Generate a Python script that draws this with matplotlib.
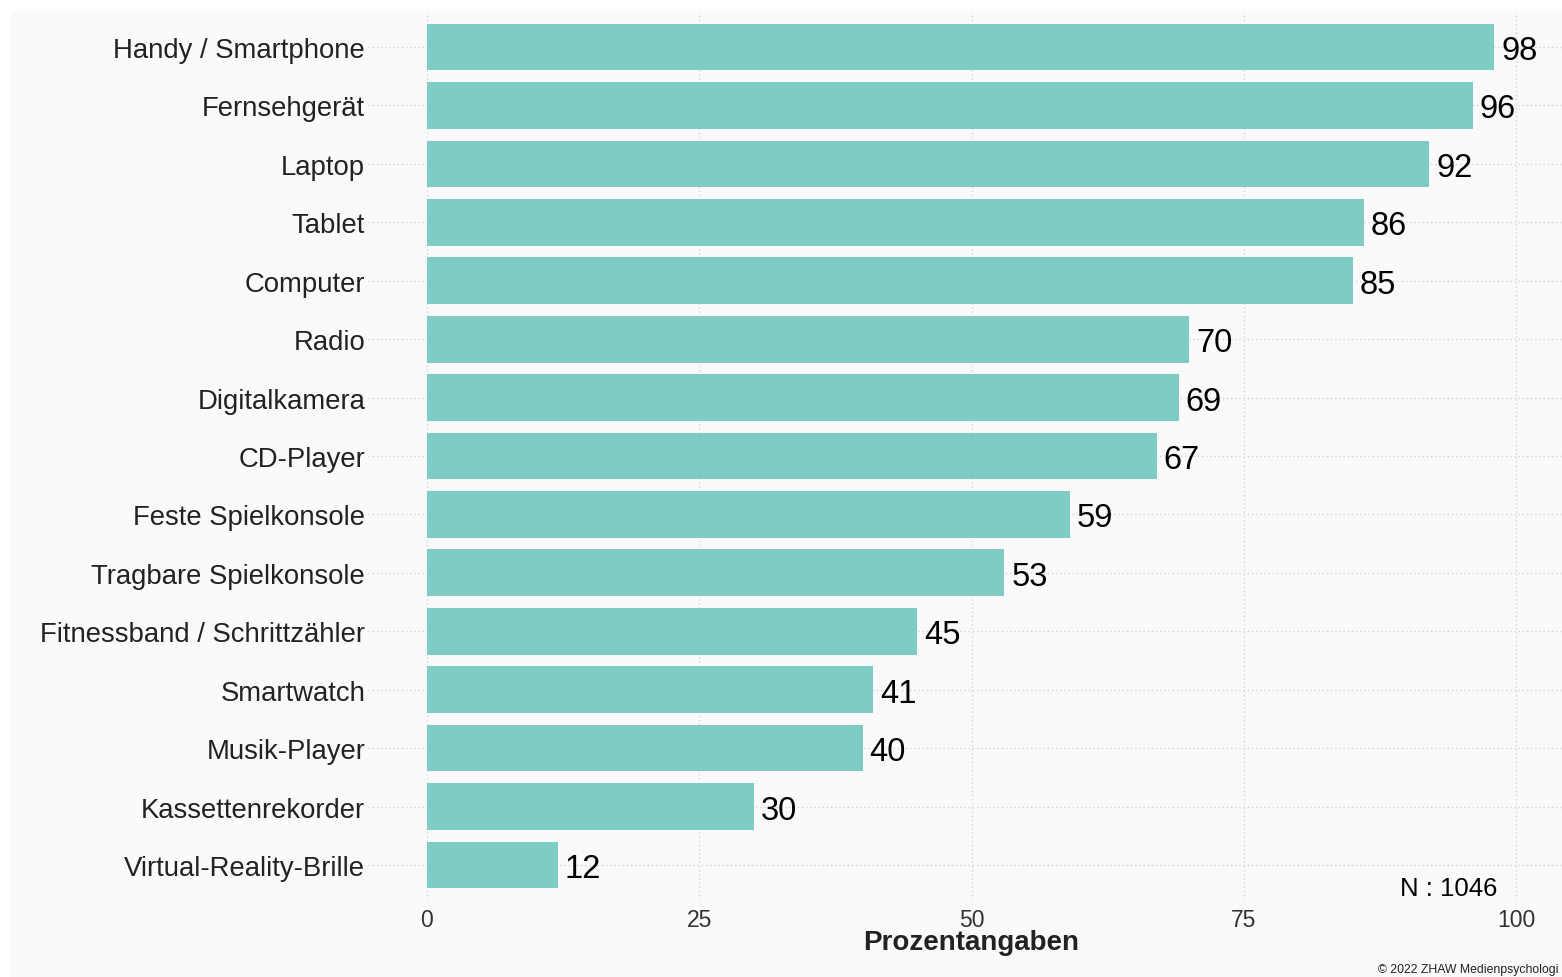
import matplotlib
matplotlib.use("Agg")
import matplotlib.pyplot as plt
import matplotlib.transforms as mtransforms
from matplotlib.patches import Rectangle

categories = ["Handy / Smartphone", "Fernsehgerät", "Laptop", "Tablet", "Computer",
              "Radio", "Digitalkamera", "CD-Player", "Feste Spielkonsole",
              "Tragbare Spielkonsole", "Fitnessband / Schrittzähler", "Smartwatch",
              "Musik-Player", "Kassettenrekorder", "Virtual-Reality-Brille"]
values = [98, 96, 92, 86, 85, 70, 69, 67, 59, 53, 45, 41, 40, 30, 12]
xticks = [0, 25, 50, 75, 100]
xlabel = "Prozentangaben"
n_text = "N : 1046"
copyright_text = "© 2022 ZHAW Medienpsychologi"

plt.rcParams['font.family'] = ['Liberation Sans', 'DejaVu Sans']

W, H = 1562, 978
fig = plt.figure(figsize=(W / 100, H / 100), dpi=100, facecolor="white")
bg = Rectangle((11 / W, 0), 1 - 11 / W, 1 - 13 / H, transform=fig.transFigure,
               facecolor="#FAFAFA", edgecolor="none", zorder=-10)
fig.patches.append(bg)

ax = fig.add_axes([368 / W, (H - 901) / H, 1 - 368 / W, (901 - 13) / H])
ax.patch.set_visible(False)

n = len(categories)
ypos = list(range(n))[::-1]
ax.barh(ypos, values, height=0.8, color="#7ECCC4", zorder=2)
for y, v in zip(ypos, values):
    ax.annotate(str(v), xy=(v, y), xytext=(5, 0), textcoords="offset points",
                ha="left", va="center_baseline", fontsize=23.5, color="black", zorder=3)

ax.set_xlim(-5.4, 104.2)
ax.set_ylim(-0.6, n - 0.4)
ax.set_yticks(ypos)
ax.set_yticklabels(categories, fontsize=19.8, color="#222222")
ax.set_xticks(xticks)
ax.set_xticklabels([str(t) for t in xticks], fontsize=16.5, color="#333333")
ax.tick_params(axis="both", length=0)
ax.tick_params(axis="y", pad=2)
ax.tick_params(axis="x", pad=6)
for lab in ax.get_yticklabels():
    lab.set_verticalalignment("center_baseline")
for s in ax.spines.values():
    s.set_visible(False)
ax.grid(True, linestyle=(0, (1, 2)), color="#D5D5D5", linewidth=1.0, zorder=1)
ax.set_axisbelow(True)

trans = mtransforms.blended_transform_factory(ax.transData, fig.transFigure)
ax.text(50, (H - 943) / H, xlabel, transform=trans, ha="center", va="center",
        fontsize=20, fontweight="bold", color="#222222")

ax.text(98.3, -0.4, n_text, ha="right", va="center", fontsize=18.5, color="black")

fig.text(1558 / W, (H - 970) / H, copyright_text, ha="right", va="center",
         fontsize=8.8, color="#222222")

fig.savefig("out.png", dpi=100, facecolor=fig.get_facecolor())
